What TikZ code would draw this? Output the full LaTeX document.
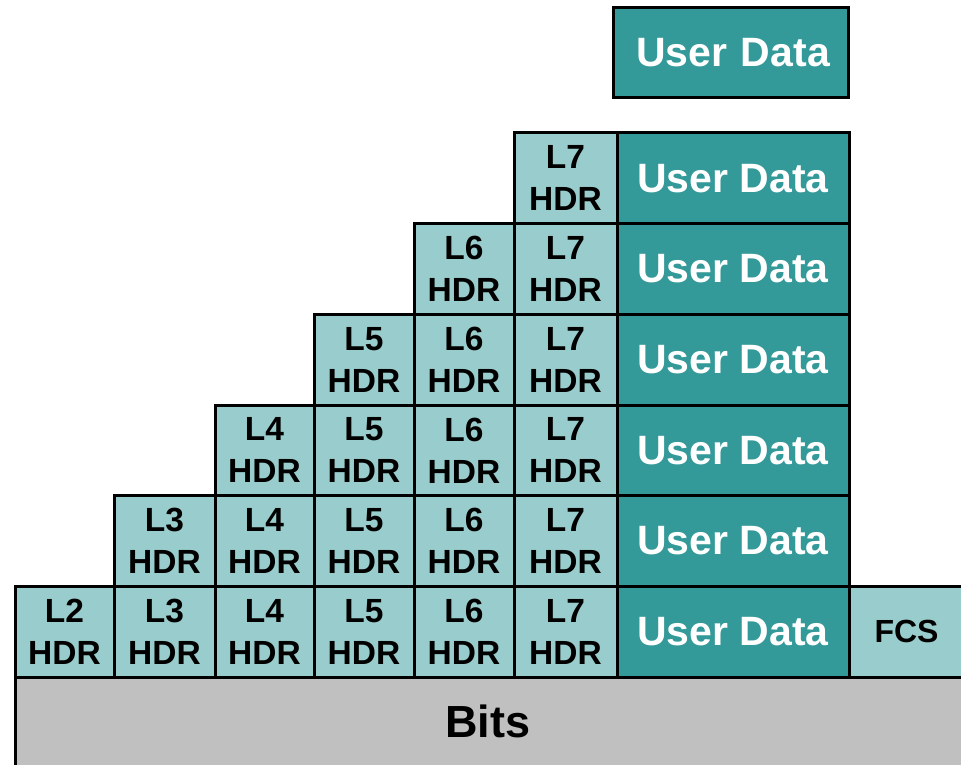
\documentclass[tikz,border=0pt]{standalone}
\usepackage{fontspec}
\setmainfont{Liberation Sans}
\definecolor{dteal}{HTML}{339999}
\definecolor{lteal}{HTML}{99CCCC}
\definecolor{bitgray}{HTML}{C0C0C0}
\begin{document}
\begin{tikzpicture}[x=1pt,y=-1pt,
  cell/.style={draw=black, line width=3pt, inner sep=0pt, outer sep=0pt,
    anchor=north west, align=center, font=\bfseries},
  hdrcell/.style={cell, fill=lteal, minimum height=90.67pt,
    font=\bfseries\fontsize{33.5}{42}\selectfont},
  udcell/.style={cell, fill=dteal, text=white, minimum height=90.67pt,
    minimum width=232pt, font=\bfseries\fontsize{41}{48}\selectfont},
  fcscell/.style={cell, fill=lteal, minimum height=90.67pt,
    minimum width=115pt, font=\bfseries\fontsize{32}{38}\selectfont},
  bitsbar/.style={fill=bitgray, inner sep=0pt, outer sep=0pt, anchor=north west,
    minimum width=946pt, minimum height=88pt,
    font=\bfseries\fontsize{45}{54}\selectfont}]
\useasboundingbox (0,0) rectangle (961,765);
\clip (0,0) rectangle (961,765);

% physical layer bits
\node[bitsbar] (bits) at (15,677) {Bits};
\draw[line width=3pt] (bits.north west) -- (bits.south west);

% application data on its own
\node[udcell, minimum width=235pt, minimum height=90pt,
  text width=230pt] (ud0) at (613,8) {\hspace*{5pt}User Data};

% encapsulation rows: each row adds one header on the left
\foreach \r/\y in {1/133,2/223.67,3/314.33,4/405,5/495.67,6/586.33}{
  \node[udcell] (ud\r) at (617,\y) {User Data};
  \foreach \l/\x/\w in {2/15/99,3/114/101,4/215/99,5/314/100,6/414/100,7/514/103}{
    \ifnum\l>\numexpr7-\r\relax
      \node[hdrcell, minimum width=\w pt] (h\r-\l) at (\x,\y) {L\l\\HDR};
    \fi
  }
}

% frame check sequence trailer
\node[fcscell, text width=112pt] (fcs) at (849,586.33) {FCS};
\end{tikzpicture}
\end{document}
